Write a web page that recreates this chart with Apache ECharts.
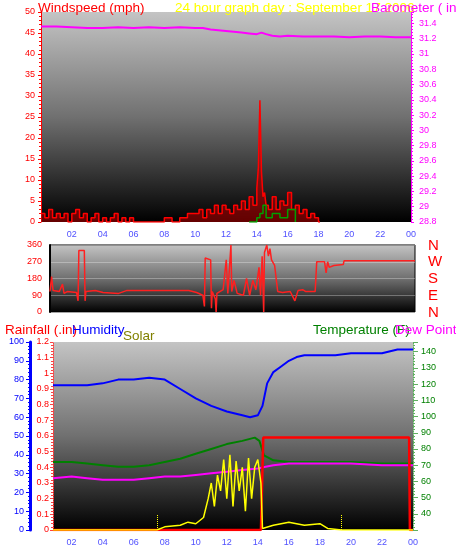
<!DOCTYPE html>
<html><head><meta charset="utf-8">
<script src="https://cdn.jsdelivr.net/npm/echarts@6/dist/echarts.min.js"></script>
<style>html,body{margin:0;padding:0;background:#fff}#c{width:456px;height:547px}</style>
</head><body><div id="c"></div>
<script>
// ---- data ----
const hourTicks = [2,4,6,8,10,12,14,16,18,20,22,24];
const baroHours = [0,1,2,3,4,5,6,7,8,9,10,10.5,11,11.5,12,12.5,13,13.5,14,14.3,14.6,15,15.5,16,17,18,19,20,21,22,23,24];
const baroVals  = [31.36,31.36,31.35,31.34,31.34,31.35,31.34,31.35,31.34,31.35,31.34,31.34,31.32,31.31,31.30,31.29,31.28,31.27,31.26,31.28,31.26,31.24,31.23,31.24,31.23,31.23,31.23,31.22,31.23,31.23,31.22,31.22];
const windHours = [0,0.25,0.5,0.75,1,1.25,1.5,1.75,2,2.25,2.5,2.75,3,3.25,3.5,3.75,4,4.25,4.5,4.75,5,5.25,5.5,5.75,6,6.5,7,7.5,8,8.5,9,9.5,10,10.25,10.5,10.75,11,11.25,11.5,11.75,12,12.25,12.5,12.75,13,13.25,13.5,13.75,14,14.1,14.2,14.3,14.4,14.5,14.6,14.75,15,15.25,15.5,15.75,16,16.25,16.5,16.75,17,17.25,17.5,17.75,18,18.1];
const windGust  = [2,1,3,1,2,1,2,0,2,3,1,2,0,1,2,0,1,0,1,2,0,1,0,1,0,0,0,0,1,0,1,2,2,3,1,3,2,4,2,4,3,2,4,3,5,3,6,4,8,13,29,12,6,7,4,3,6,3,5,4,7,3,4,2,3,1,2,1,0,0];
const windAvgHours = [13.5,14,14.2,14.4,14.6,15,15.5,16,16.5];
const windAvg      = [0,1,2,4,1,2,1,3,0];
const dirHours = [0.6,0.7,0.8,1.2,1.4,1.5,1.7,2.3,2.4,2.45,2.8,2.85,2.9,3.5,4,5,5.5,9.5,10,10.4,10.5,10.55,10.9,10.95,11,11.2,11.25,11.3,11.7,11.9,12,12.2,12.25,12.4,12.6,13,13.2,13.4,13.6,13.8,14,14.1,14.2,14.3,14.35,14.5,14.6,14.7,14.8,15,15.2,15.5,16,16.3,16.5,16.8,17,17.6,17.7,18.2,18.3,18.4,18.5,18.8,19.4,19.45,24];
const dirVals  = [110,190,115,110,150,100,110,105,60,330,330,60,110,115,105,100,115,115,105,90,30,290,280,20,110,70,0,100,120,280,100,360,110,170,100,90,180,90,170,120,240,90,300,0,320,360,300,340,280,250,110,105,110,60,115,120,110,110,270,270,210,270,240,250,255,275,275];
const humHours = [0.8,3,4,5,6,7,8,9,10,11,12,13,13.5,14,14.3,14.6,15,15.5,16,16.5,17,18,19,20,21,22,23,24];
const humVals  = [77,77,78,80,80,81,80,75,70,66,63,61,60,61,66,78,84,87,90,92,93,93,93,94,94,94,96,96];
const tempHours = [0.8,2,3,4,5,6,7,8,9,10,11,12,13,13.8,14.1,14.4,15,16,17,18,20,22,24];
const tempVals  = [72,72,71,70,69,69,70,72,74,77,80,83,85,87,85,76,73,72,72,72,72,71,71];
const dewHours = [0.8,2,3,4,5,6,7,8,9,10,11,12,13,14,14.5,15,16,17,18,20,22,24];
const dewVals  = [62,63,62,61,61,61,62,63,63,64,65,66,67,68,69,70,71,71,71,71,70,70];
const rainHours = [0.8,14.2,14.35,23.75,23.8,24];
const rainVals  = [0,0,0.59,0.59,0,0];
const solarHours = [0.8,7.5,8,9,9.5,10,10.5,10.8,11,11.2,11.4,11.6,11.8,12,12.2,12.4,12.6,12.8,13,13.2,13.4,13.6,13.8,14,14.2,14.3,15,16,17,18,18.5,19.4,24];
const solarVals  = [0,0,0.02,0.03,0.05,0.04,0.08,0.2,0.3,0.15,0.35,0.25,0.45,0.2,0.48,0.15,0.44,0.25,0.4,0.12,0.46,0.2,0.4,0.45,0.3,0.01,0.03,0.05,0.03,0.04,0.01,0,0];
const sunMarks = [7.5, 19.4];
const dirLabels = ['N','W','S','E','N'];

const zip=(a,b)=>a.map((h,i)=>[h,b[i]]);
const bg = ()=>new echarts.graphic.LinearGradient(0,0,0,1,[{offset:0,color:'#c4c4c4'},{offset:0.5,color:'#707070'},{offset:1,color:'#000'}]);
const F='Liberation Sans, Arial, sans-serif';
const xBase = (gi,min,show)=>({type:'value',gridIndex:gi,min:min,max:24,
  axisLine:{show:false},axisTick:{show:false,customValues:hourTicks},
  axisLabel:{show:show,color:'#5050ff',fontSize:9,fontFamily:F,customValues:hourTicks,formatter:v=>v===24?'00':String(v).padStart(2,'0')},
  splitLine:{show:false}});
const yAx=(o)=>Object.assign({type:'value',splitLine:{show:false},axisTick:{show:true,length:3},minorTick:{show:true,splitNumber:5,length:2},
  axisLabel:{fontSize:9,fontFamily:F}},o);
const T=(text,left,top,color)=>({text,left,top,textStyle:{color,fontSize:13.5,fontWeight:'normal',fontFamily:F}});

const opt={
 animation:false,backgroundColor:'#fff',
 title:[
  T('Windspeed (mph)',33,-4,'#ff0000'),
  T('24 hour graph day : September 17 2006',170,-4,'#ffff00'),
  T('Barometer ( in)',366,-4,'#ff00ff'),
  T('Rainfall (.in)',0,318,'#ff0000'),
  T('Humidity',67,318,'#0000ff'),
  T('Solar',118,324,'#808000'),
  T('Temperature (F)',308,318,'#008000'),
  T('Dew Point (',390,318,'#ff00ff'),
 ],
 graphic: dirLabels.map((t,i)=>({type:'text',left:428,top:238+i*16.8,style:{text:t,fill:'#ff0000',font:'15px '+F}})),
 grid:[
  {left:41,right:45,top:12,height:210,show:true,backgroundColor:bg(),borderWidth:0},
  {left:50,right:41,top:245,height:67,show:true,backgroundColor:bg(),borderColor:'#000',borderWidth:1},
  {left:53,right:43,top:342,height:188,show:true,backgroundColor:bg(),borderWidth:0},
 ],
 xAxis:[ xBase(0,0,true), xBase(1,0.6,false), xBase(2,0.8,true) ],
 yAxis:[
  yAx({gridIndex:0,position:'left',min:0,max:50,interval:5,axisLine:{show:true,lineStyle:{color:'#ff0000'}},axisLabel:{color:'#ff0000',fontSize:9,fontFamily:F,margin:6}}),
  yAx({gridIndex:0,position:'right',min:28.8,max:31.55,interval:0.2,axisLine:{show:true,lineStyle:{color:'#ff00ff'}},axisLabel:{color:'#ff00ff',fontSize:9,fontFamily:F,formatter:v=>v>31.5?'':String(+v.toFixed(1))}}),
  yAx({gridIndex:1,position:'left',min:0,max:360,interval:90,axisLine:{show:true,lineStyle:{color:'#000',width:2}},minorTick:{show:false},axisTick:{show:false},axisLabel:{color:'#ff0000',fontSize:9,fontFamily:F},splitLine:{show:true,lineStyle:{color:'rgba(255,255,255,0.3)'}}}),
  yAx({gridIndex:2,position:'left',min:0,max:100,interval:10,offset:23,axisLine:{show:true,lineStyle:{color:'#0000ff',width:3}},axisTick:{length:4,lineStyle:{color:'#0000ff'}},axisLabel:{color:'#0000ff',fontSize:9,fontFamily:F,margin:6}}),
  yAx({gridIndex:2,position:'left',offset:0,min:0,max:1.2,interval:0.1,axisLine:{show:true,lineStyle:{color:'#ff4040',type:'dotted'}},axisLabel:{color:'#ff0000',fontSize:9,fontFamily:F,margin:4,formatter:v=>String(+v.toFixed(1))}}),
  yAx({gridIndex:2,position:'right',min:30,max:146,interval:10,axisLine:{show:true,lineStyle:{color:'#60b060',type:'dotted'}},axisTick:{lineStyle:{color:'#60b060'}},axisLabel:{color:'#008000',fontSize:9,fontFamily:F,formatter:v=>v<40||v>145?'':v}}),
  {type:'value',gridIndex:2,position:'right',min:0,max:1.2,show:false},
 ],
 series:[
  {type:'line',xAxisIndex:0,yAxisIndex:1,data:zip(baroHours,baroVals),showSymbol:false,lineStyle:{color:'#ff00ff',width:2}},
  {type:'line',xAxisIndex:0,yAxisIndex:0,step:'end',data:zip(windHours,windGust),showSymbol:false,lineStyle:{color:'#ff0000',width:1.5},areaStyle:{color:'rgba(180,0,0,0.8)'}},
  {type:'line',xAxisIndex:0,yAxisIndex:0,step:'end',data:zip(windAvgHours,windAvg),showSymbol:false,lineStyle:{color:'#00a000',width:1.5}},
  {type:'line',xAxisIndex:1,yAxisIndex:2,data:zip(dirHours,dirVals),showSymbol:false,lineStyle:{color:'#ff2020',width:1.5}},
  {type:'line',xAxisIndex:2,yAxisIndex:3,data:zip(humHours,humVals),showSymbol:false,lineStyle:{color:'#0000ff',width:2}},
  {type:'line',xAxisIndex:2,yAxisIndex:5,data:zip(tempHours,tempVals),showSymbol:false,lineStyle:{color:'#008000',width:2}},
  {type:'line',xAxisIndex:2,yAxisIndex:5,data:zip(dewHours,dewVals),showSymbol:false,lineStyle:{color:'#ff00ff',width:2}},
  {type:'line',xAxisIndex:2,yAxisIndex:4,data:zip(rainHours,rainVals),showSymbol:false,lineStyle:{color:'#ff0000',width:2.5}},
  {type:'line',xAxisIndex:2,yAxisIndex:6,data:zip(solarHours,solarVals),showSymbol:false,lineStyle:{color:'#ffff00',width:1.5},
   markLine:{symbol:'none',silent:true,label:{show:false},lineStyle:{color:'#ffff00',type:'dotted',width:1},data:sunMarks.map(h=>[{coord:[h,0]},{coord:[h,0.1]}])}},
 ]
};
echarts.init(document.getElementById('c')).setOption(opt);
</script></body></html>
